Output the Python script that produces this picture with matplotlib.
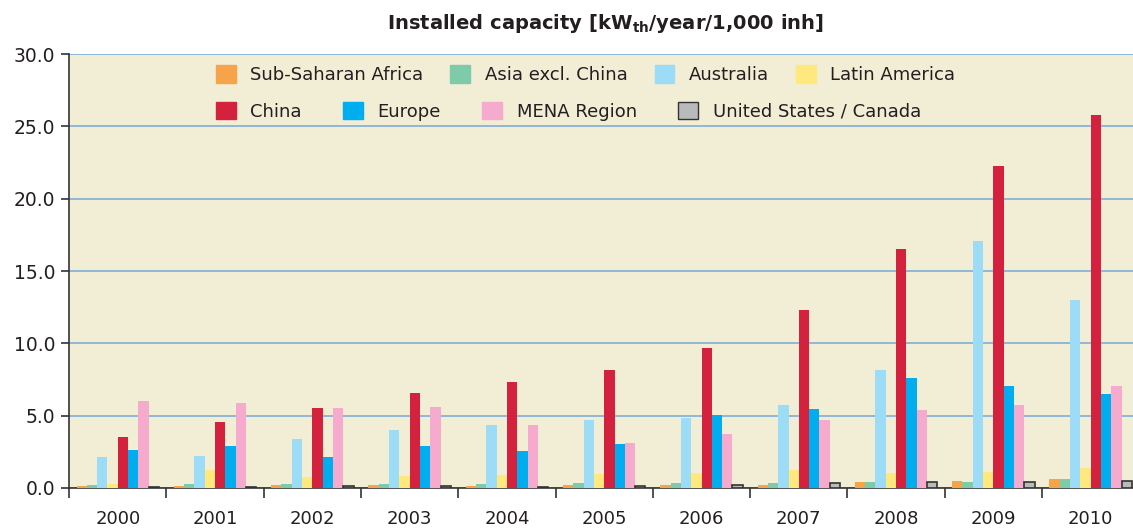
import numpy as np
import matplotlib
matplotlib.use("Agg")
import matplotlib.pyplot as plt
from matplotlib.patches import Patch

#-----------------------
#      Data
#-----------------------
years = ["2000", "2001", "2002", "2003", "2004", "2005",
         "2006", "2007", "2008", "2009", "2010"]

sub_saharan = [0.16, 0.14, 0.23, 0.23, 0.16, 0.23, 0.23, 0.23, 0.44, 0.51, 0.65]
asia_excl   = [0.23, 0.28, 0.30, 0.30, 0.30, 0.37, 0.37, 0.37, 0.44, 0.44, 0.65]
australia   = [2.17, 2.24, 3.36, 3.98, 4.39, 4.73, 4.87, 5.77, 8.13, 17.1, 12.98]
latin_am    = [0.30, 1.27, 0.79, 0.85, 0.92, 0.99, 1.06, 1.27, 1.06, 1.13, 1.41]
china       = [3.56, 4.53, 5.50, 6.55, 7.30, 8.13, 9.65, 12.29, 16.5, 22.26, 25.8]
europe      = [2.66, 2.87, 2.17, 2.87, 2.59, 3.07, 5.08, 5.43, 7.64, 7.02, 6.47]
mena        = [6.00, 5.85, 5.50, 5.58, 4.39, 3.14, 3.70, 4.67, 5.36, 5.77, 7.02]
us_canada   = [0.08, 0.08, 0.15, 0.15, 0.07, 0.14, 0.23, 0.35, 0.44, 0.42, 0.51]

series = [
    ("Sub-Saharan Africa", sub_saharan, "#F7A34A"),
    ("Asia excl. China", asia_excl, "#7ECBA9"),
    ("Australia", australia, "#9DDCF6"),
    ("Latin America", latin_am, "#FFE97F"),
    ("China", china, "#D4213D"),
    ("Europe", europe, "#00AEEF"),
    ("MENA Region", mena, "#F5AACE"),
    ("United States / Canada", us_canada, "#B8BABB"),
]

#-----------------------
#      Plot
#-----------------------
txt = "#231F20"
plt.rcParams['font.family'] = ['DejaVu Sans']

fig = plt.figure(figsize=(11.33, 5.31), dpi=100)
ax = fig.add_axes([0.061, 0.081, 0.9446, 0.817])
ax.set_facecolor("#F2EDD5")

x = np.arange(len(years))
width = 0.106
for i, (name, vals, col) in enumerate(series):
    off = (i - 3.5) * width
    if name == "United States / Canada":
        ax.bar(x + off, vals, width, color=col, edgecolor="#333333", linewidth=1.2, zorder=3)
    else:
        ax.bar(x + off, vals, width, color=col, linewidth=0, zorder=3)

ax.set_xlim(-0.5, len(years) - 0.5)
ax.set_ylim(0, 30)
ax.set_yticks(np.arange(0, 30.1, 5))
ax.set_yticklabels(["%.1f" % v for v in np.arange(0, 30.1, 5)], fontsize=13.5, color=txt)
ax.yaxis.grid(True, color="#8FB8D8", linewidth=1.4, zorder=0)
ax.set_axisbelow(True)

ax.set_xticks(x)
ax.set_xticklabels(years, fontsize=13, color=txt)
ax.tick_params(axis="x", which="major", length=0, pad=16)
ax.set_xticks(np.arange(-0.5, len(years), 1), minor=True)
ax.tick_params(axis="x", which="minor", length=7, width=1.2, color="#333333", direction="out")
ax.tick_params(axis="y", length=6, width=1.2, color="#333333", pad=4)

for s in ["top", "right"]:
    ax.spines[s].set_visible(False)
ax.spines["left"].set_color("#333333")
ax.spines["bottom"].set_color("#333333")
ax.spines["left"].set_linewidth(1.2)
ax.spines["bottom"].set_linewidth(1.2)

fig.text(0.534, 0.955, "Installed capacity [kW$_{\\mathbf{th}}$/year/1,000 inh]",
         ha="center", va="center", fontsize=14, fontweight="bold", color=txt)

handles = [Patch(facecolor=c, edgecolor=("#333333" if n.startswith("United") else c), label=n)
           for n, v, c in series]

leg1 = ax.legend(handles=handles[:4], ncol=4, frameon=False, fontsize=13,
                 loc="upper left", bbox_to_anchor=(0.122, 1.012),
                 handlelength=1.1, handleheight=1.1, handletextpad=0.8,
                 columnspacing=1.5, labelcolor=txt)
ax.add_artist(leg1)
ax.legend(handles=handles[4:], ncol=4, frameon=False, fontsize=13,
          loc="upper left", bbox_to_anchor=(0.122, 0.927),
          handlelength=1.1, handleheight=1.1, handletextpad=0.8,
          columnspacing=2.3, labelcolor=txt)

plt.savefig("out.png", dpi=100)
